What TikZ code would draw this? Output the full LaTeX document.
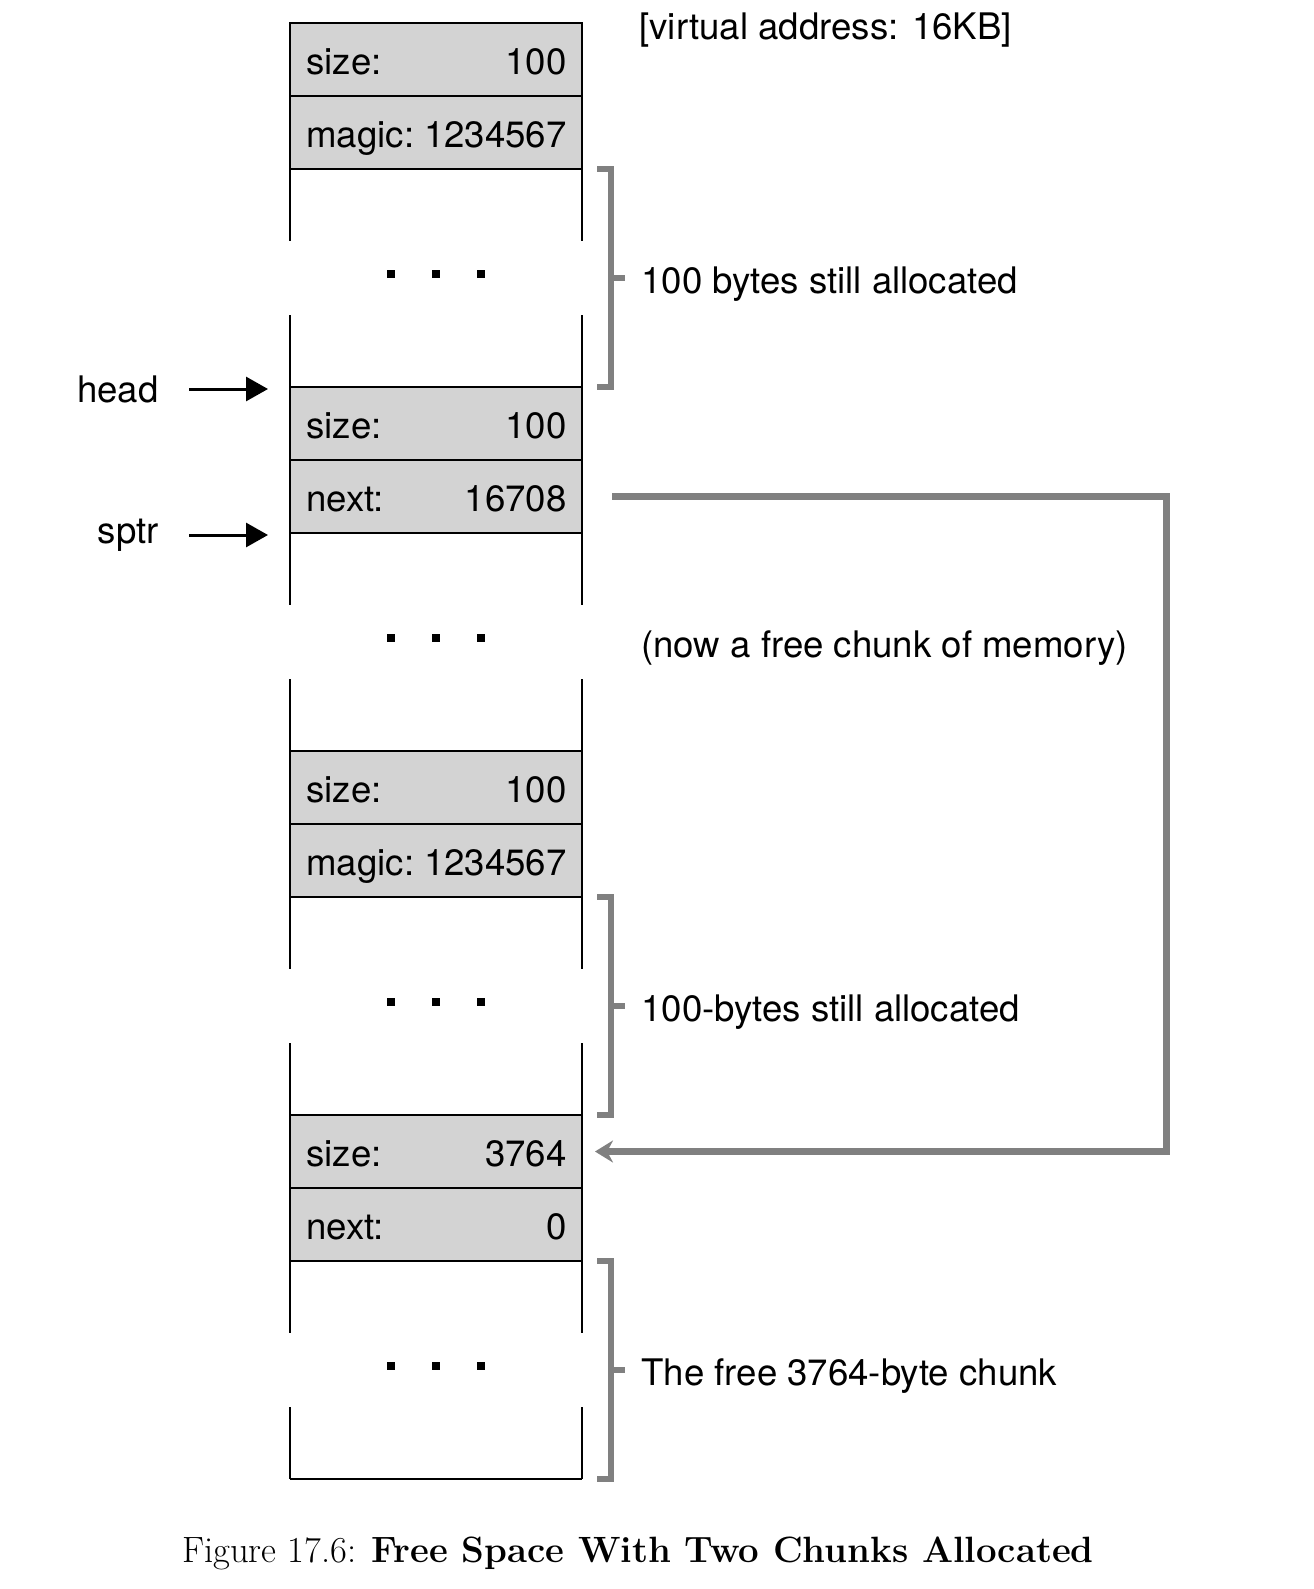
\documentclass[tikz,border=0pt]{standalone}
\usepackage{fontspec}
\newfontfamily\heros{TeX Gyre Heros}
\usetikzlibrary{arrows.meta}
\definecolor{cellgray}{RGB}{211,211,211}
\definecolor{brkgray}{RGB}{128,128,128}
\begin{document}
\begin{tikzpicture}[x=0.5pt,y=-0.5pt,
  cell/.style={draw=black,line width=1pt,fill=cellgray,minimum width=146pt,minimum height=36.5pt,inner sep=0pt},
  lab/.style={font=\heros\fontsize{18.3pt}{22pt}\selectfont,inner sep=0pt},
  col/.style={line width=1pt,black},
  brk/.style={draw=brkgray,line width=3pt,line join=miter},
  garr/.style={draw=brkgray,line width=3.5pt,line join=miter,-{Stealth[length=9pt,width=11pt,fill=brkgray]}},
  barr/.style={draw=black,line width=1.5pt,-{Triangle[length=11pt,width=12pt]}},
  dot/.style={fill=black}]
\useasboundingbox (0,0) rectangle (1313,1589);
\foreach \k/\la/\va/\lb/\vb in {0/size:/100/magic:/1234567,1/size:/100/next:/16708,2/size:/100/magic:/1234567,3/size:/3764/next:/0}{
  \pgfmathsetmacro\s{23+364*\k}
  \node[cell] (row\k-a) at (436,{\s+36.5}) {};
  \node[cell] (row\k-b) at (436,{\s+109.5}) {};
  \node[lab,anchor=base west] (row\k-al) at (306,{\s+51.5}) {\la};
  \node[lab,anchor=base east] (row\k-av) at (567,{\s+51.5}) {\va};
  \node[lab,anchor=base west] (row\k-bl) at (306,{\s+124.5}) {\lb};
  \node[lab,anchor=base east] (row\k-bv) at (567,{\s+124.5}) {\vb};
  \draw[col] (290,{\s+146}) -- (290,{\s+218});
  \draw[col] (582,{\s+146}) -- (582,{\s+218});
  \draw[col] (290,{\s+292}) -- (290,{\s+364});
  \draw[col] (582,{\s+292}) -- (582,{\s+364});
  \fill[dot] (387,{\s+247}) rectangle ++(8,8);
  \fill[dot] (432,{\s+247}) rectangle ++(8,8);
  \fill[dot] (477,{\s+247}) rectangle ++(8,8);
}
\draw[col] (290,1479) -- (582,1479);
% brackets
\foreach \k in {0,2,3}{
  \pgfmathsetmacro\s{23+364*\k}
  \draw[brk] (597,{\s+146}) -- (611,{\s+146}) -- (611,{\s+364}) -- (597,{\s+364});
  \draw[brk] (611,{\s+255}) -- (625,{\s+255});
}
% labels
\node[lab,anchor=base west] (vaddr) at (639,40) {[virtual address: 16KB]};
\node[lab,anchor=base west] (lab0) at (641,{23+255+15}) {100 bytes still allocated};
\node[lab,anchor=base west] (lab1) at (641,{387+255+15}) {(now a free chunk of memory)};
\node[lab,anchor=base west] (lab2) at (641,{751+255+15}) {100-bytes still allocated};
\node[lab,anchor=base west] (lab3) at (641,{1115+255+15}) {The free 3764-byte chunk};
% pointers
\node[lab,anchor=east] (head) at (159,389) {head};
\node[lab,anchor=east] (sptr) at (159,535) {sptr};
\draw[barr] ([xshift=15pt]head.east) -- ([xshift=-10.5pt]head.east -| row1-a.west);
\draw[barr] ([xshift=15pt]sptr.east) -- ([xshift=-10.5pt]sptr.east -| row1-b.west);
% next pointer
\draw[garr] ([xshift=14.5pt]row1-b.east) -- ++(277pt,0) |- ([xshift=6pt]row3-a.east);
% caption
\node[font=\fontsize{18.3pt}{22pt}\selectfont,inner sep=0pt] (caption) at (638,1553) {Figure 17.6: \textbf{Free Space With Two Chunks Allocated}};
\end{tikzpicture}
\end{document}
